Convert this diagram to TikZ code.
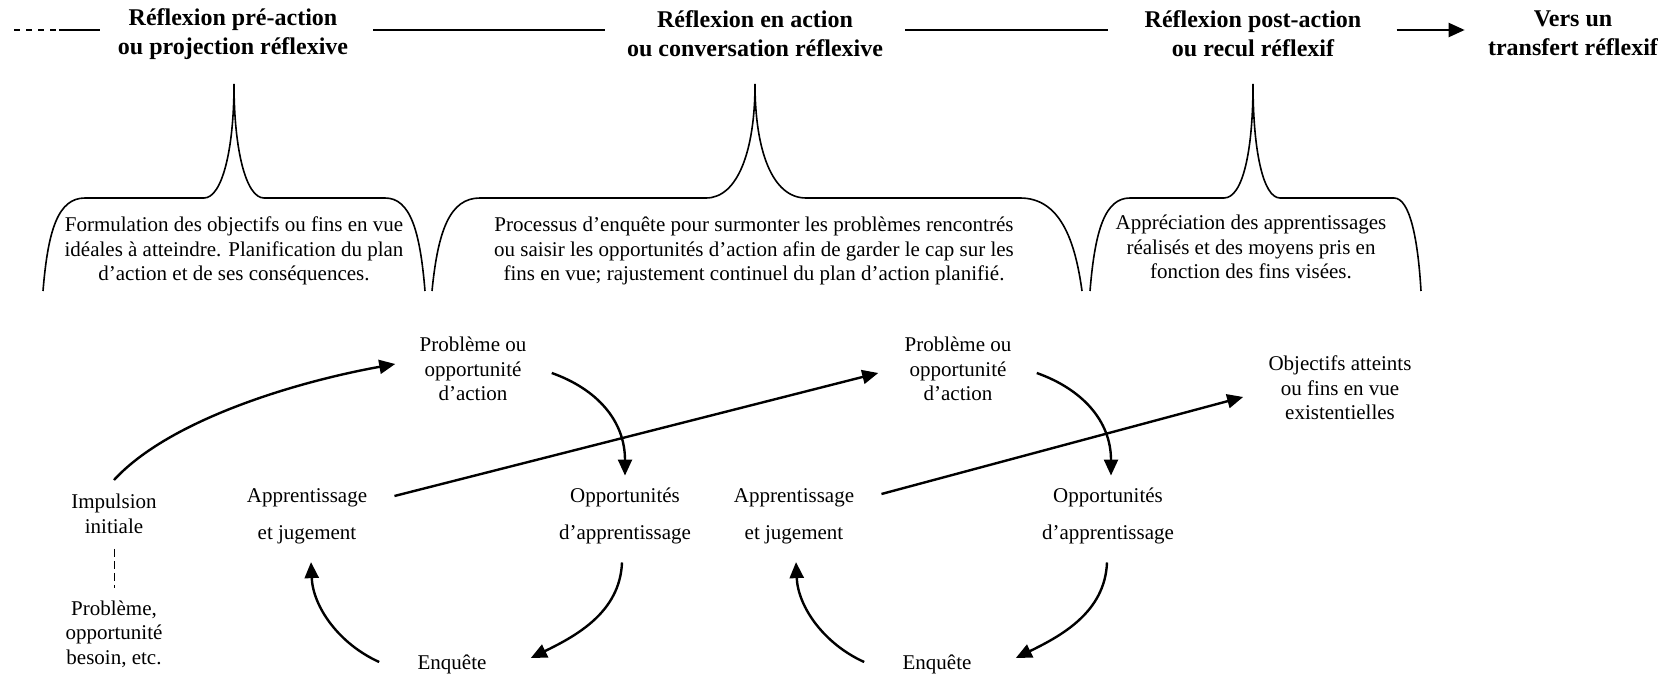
\documentclass[tikz,border=0pt]{standalone}
\usepackage{fontspec}
\setmainfont{Liberation Serif}
\usetikzlibrary{arrows.meta}

\begin{document}
\begin{tikzpicture}[x=0.5pt,y=-0.5pt,
        txt/.style={font=\fontsize{10.5}{12.2}\selectfont,align=center,inner sep=0pt},
        titre/.style={font=\fontsize{12}{14.4}\selectfont\bfseries,align=center,inner sep=0pt},
        arr/.style={line width=1.2pt,-{Triangle[length=8pt,width=7pt]}},
        trait/.style={line width=1.1pt},
        accolade/.style={line width=0.8pt},
        pointille/.style={line width=0.5pt,dash pattern=on 4pt off 2pt}]
            \useasboundingbox (0,0) rectangle (1675,678);

            \node[titre] (t1) at (233,34) {Réflexion pré-action\\ou projection réflexive};
            \node[titre] (t2) at (755,34) {Réflexion en action\\ou conversation réflexive};
            \node[titre] (t3) at (1253,34) {Réflexion post-action\\ou recul réflexif};
            \node[titre] (t4) at (1573,33) {Vers un\\transfert réflexif};

            \coordinate (debut) at (14,30);
            \draw[trait,dash pattern=on 3pt off 3pt] (debut) -- ++(44,0);
            \draw[trait] ([shift={(-18,-4)}]t1.west) -- ++(-41,0);
            \draw[trait] ([shift={(25,-4)}]t1.east) -- ([shift={(-22,-4)}]t2.west);
            \draw[trait] ([shift={(22,-4)}]t2.east) -- ([shift={(-36,-4)}]t3.west);
            \draw[trait,-{Triangle[length=8pt,width=7pt]}] ([shift={(35,-4)}]t3.east) -- ([shift={(-23,-3)}]t4.west);

            \draw[accolade] (43,291) .. controls (48,230) and (58,198) .. (85,198) -- (204,198)
                .. controls (222,198) and (234,150) .. (234,84)
                .. controls (234,150) and (246,198) .. (264,198) -- (385,198)
                .. controls (410,198) and (420,230) .. (425,291);
            \draw[accolade] (432,291) .. controls (438,230) and (450,198) .. (480,198) -- (706,198)
                .. controls (738,198) and (755,150) .. (755,84)
                .. controls (755,150) and (772,198) .. (806,198) -- (1020,198)
                .. controls (1060,198) and (1075,240) .. (1082,291);
            \draw[accolade] (1090,291) .. controls (1095,230) and (1105,198) .. (1130,198) -- (1224,198)
                .. controls (1243,198) and (1253,150) .. (1253,84)
                .. controls (1253,150) and (1263,198) .. (1280,198) -- (1394,198)
                .. controls (1410,198) and (1418,240) .. (1421,291);

            \node[txt] (d1) at (234,251) {Formulation des objectifs ou fins en vue\\idéales à atteindre. Planification du plan\\d’action et de ses conséquences.};
            \node[txt] (d2) at (754,251) {Processus d’enquête pour surmonter les problèmes rencontrés\\ou saisir les opportunités d’action afin de garder le cap sur les\\fins en vue; rajustement continuel du plan d’action planifié.};
            \node[txt] (d3) at (1251,247) {Appréciation des apprentissages\\réalisés et des moyens pris en\\fonction des fins visées.};

            \node[txt] (imp) at (114,514) {Impulsion\\initiale};
            \node[txt] (besoin) at (114,634) {Problème,\\opportunité\\besoin, etc.};
            \node[txt] (pb1) at (473,369) {Problème ou\\opportunité\\d’action};
            \node[txt] (pb2) at (958,369) {Problème ou\\opportunité\\d’action};
            \node[txt] (obj) at (1340,388) {Objectifs atteints\\ou fins en vue\\existentielles};
            \node[txt] (app1) at (307,516) {Apprentissage\\[6.3pt]et jugement};
            \node[txt] (opp1) at (625,516) {Opportunités\\[6.3pt]d’apprentissage};
            \node[txt] (app2) at (794,516) {Apprentissage\\[6.3pt]et jugement};
            \node[txt] (opp2) at (1108,516) {Opportunités\\[6.3pt]d’apprentissage};
            \node[txt] (enq1) at (452,664) {Enquête};
            \node[txt] (enq2) at (937,664) {Enquête};

            \draw[pointille] ([shift={(0,15)}]imp.south) -- ([shift={(0,-12)}]besoin.north);

            \draw[arr] ([shift={(0,-14)}]imp.north) .. controls +(55,-60) and +(-100,18) .. ([shift={(-24,-5)}]pb1.west);
            \draw[arr] ([shift={(25,4)}]pb1.east) .. controls +(45,16) and +(0,-55) .. ([shift={(0,-12)}]opp1.north);
            \draw[arr] ([shift={(-3,18)}]opp1.south) .. controls +(-2,50) and +(45,-22) .. ([shift={(44,-6)}]enq1.east);
            \draw[arr] ([shift={(-38,-2)}]enq1.west) .. controls +(-40,-18) and +(2,45) .. ([shift={(4,18)}]app1.south);
            \draw[arr] ([shift={(27,-20)}]app1.east) -- ([shift={(-26,4)}]pb2.west);

            \draw[arr] ([shift={(25,4)}]pb2.east) .. controls +(45,16) and +(0,-55) .. ([shift={(3,-12)}]opp2.north);
            \draw[arr] ([shift={(-1,18)}]opp2.south) .. controls +(-2,50) and +(45,-22) .. ([shift={(44,-6)}]enq2.east);
            \draw[arr] ([shift={(-38,-2)}]enq2.west) .. controls +(-40,-18) and +(2,45) .. ([shift={(2,18)}]app2.south);
            \draw[arr] ([shift={(27,-22)}]app2.east) -- ([shift={(-25,9)}]obj.west);
        \end{tikzpicture}
\end{document}
